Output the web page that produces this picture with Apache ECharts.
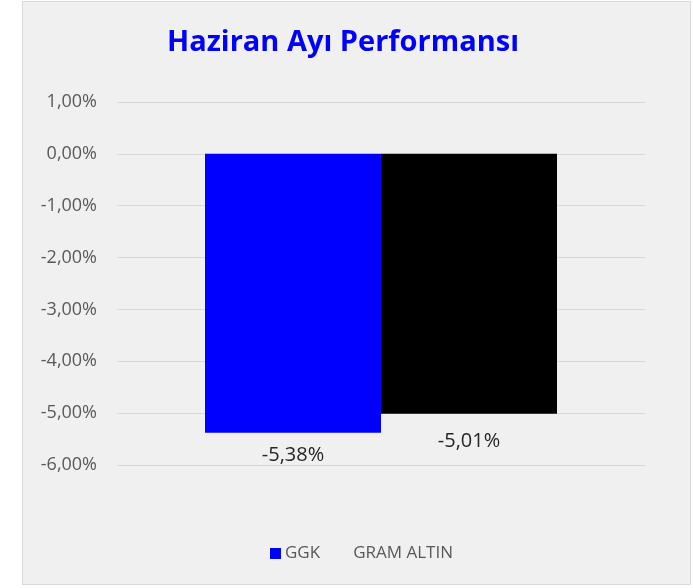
<!DOCTYPE html>
<html>
<head>
<meta charset="utf-8">
<script src="https://cdn.jsdelivr.net/npm/echarts@6/dist/echarts.min.js"></script>
<style>
  html, body { margin: 0; padding: 0; background: #ffffff; }
  #main { width: 693px; height: 588px; }
</style>
</head>
<body>
<div id="main"></div>
<script>
var categories = ["Haziran"];
var seriesNames = ["GGK", "GRAM ALTIN"];
var ggkValues = [-5.38];
var altinValues = [-5.01];
var yTicks = { min: -6, max: 1, step: 1 };

function pct(v) {
    return v.toFixed(2).replace(".", ",") + "%";
}

var chart = echarts.init(document.getElementById("main"));
var option = {
    animation: false,
    graphic: [{
        type: "rect",
        shape: { x: 22.5, y: 1.5, width: 668, height: 583 },
        style: { fill: "#f0f0f0", stroke: "#d9d9d9", lineWidth: 1 },
        z: -10
    }],
    title: {
        text: "Haziran Ayı Performansı",
        left: 338,
        top: 23,
        textAlign: "center",
        textStyle: { color: "#0000ff", fontSize: 29, fontWeight: "bold", fontFamily: "Open Sans" }
    },
    grid: { left: 117, right: 48, top: 102, bottom: 123, containLabel: false },
    legend: {
        bottom: 21,
        left: 265,
        itemWidth: 11,
        itemHeight: 11,
        itemGap: 18,
        icon: "rect",
        textStyle: { color: "#595959", fontSize: 17, fontFamily: "Open Sans", padding: [0, 0, 0, -1] },
        data: [
            { name: seriesNames[0] },
            { name: seriesNames[1], itemStyle: { opacity: 0 } }
        ]
    },
    xAxis: {
        type: "category",
        data: categories,
        axisLine: { show: false },
        axisTick: { show: false },
        axisLabel: { show: false }
    },
    yAxis: {
        type: "value",
        min: yTicks.min,
        max: yTicks.max,
        interval: yTicks.step,
        axisLine: { show: false },
        axisTick: { show: false },
        splitLine: { lineStyle: { color: "#d9d9d9", width: 1 } },
        axisLabel: {
            formatter: pct,
            color: "#595959",
            fontSize: 18,
            fontFamily: "Open Sans",
            margin: 20
        }
    },
    series: [
        {
            name: seriesNames[0],
            type: "bar",
            data: ggkValues,
            barWidth: 176,
            barGap: "0%",
            itemStyle: { color: "#0000ff" },
            label: {
                show: true, position: "bottom", distance: 12,
                formatter: function (p) { return pct(p.value); },
                color: "#262626", fontSize: 20, fontFamily: "Open Sans"
            }
        },
        {
            name: seriesNames[1],
            type: "bar",
            data: altinValues,
            barWidth: 176,
            barGap: "0%",
            itemStyle: { color: "#000000" },
            label: {
                show: true, position: "bottom", distance: 18,
                formatter: function (p) { return pct(p.value); },
                color: "#262626", fontSize: 20, fontFamily: "Open Sans"
            }
        }
    ]
};
chart.setOption(option);
</script>
</body>
</html>
